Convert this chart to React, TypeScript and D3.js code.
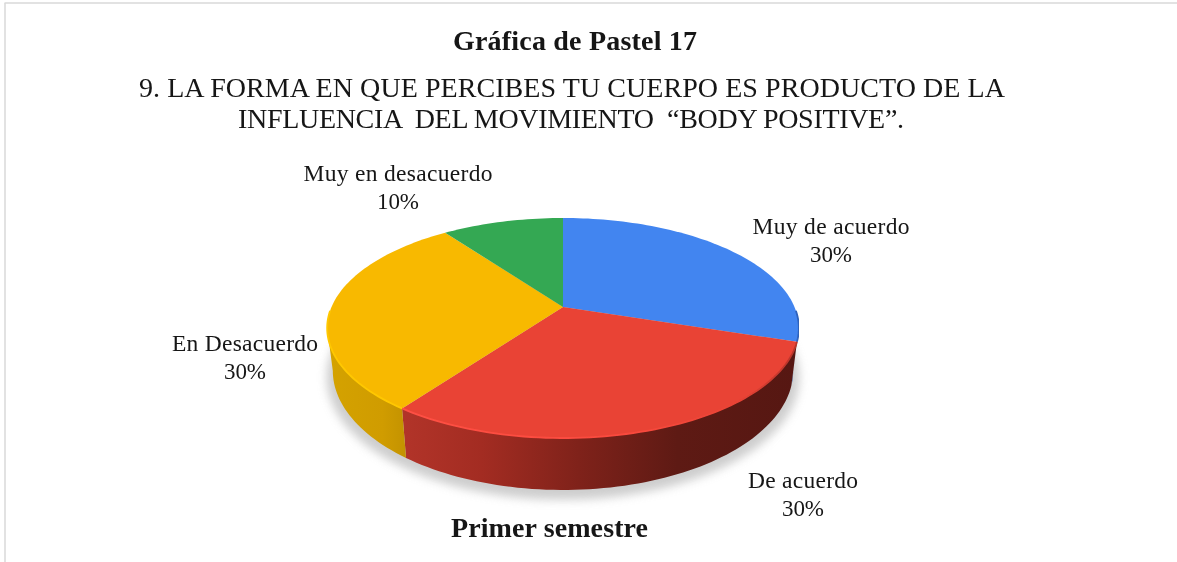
import React, { useEffect, useRef } from "react";
import * as d3 from "d3";

const categories = ["Muy de acuerdo", "De acuerdo", "En Desacuerdo", "Muy en desacuerdo"];
const values = [30, 30, 30, 10];
const percentLabels = ["30%", "30%", "30%", "10%"];
const chartTitle = "Gráfica de Pastel 17";
const questionLines = [
  "9. LA FORMA EN QUE PERCIBES TU CUERPO ES PRODUCTO DE LA",
  "INFLUENCIA  DEL MOVIMIENTO  “BODY POSITIVE”.",
];
const footer = "Primer semestre";

const topColors = ["#4285F0", "#E94335", "#F8B900", "#34A853"];
const rimColors = ["#2F62BC", "url(#redRim)", "#FFC800", "#34A853"];
const wallFills = ["#1F4C96", "url(#redWall)", "url(#yellowWall)", "#34A853"];

const labelPos = [
  { x: 831, y: 234 },
  { x: 803, y: 488 },
  { x: 245, y: 351 },
  { x: 398, y: 181 },
];

const W = 1177;
const H = 562;
const cx = 563;
const cy = 307;

// perspective mapping of a unit disc, upper face and lower face
const project = (face: { B: number; A: number; k: number; dy: number }) => (a: number): [number, number] => {
  const u = Math.sin(a);
  const v = -Math.cos(a);
  const d = 1 - face.k * v;
  return [cx + (face.B * u) / d, cy + face.dy + (face.A * v) / d];
};
const topFace = project({ B: 231.5, A: 106, k: 0.191, dy: 0 });
const lowFace = project({ B: 226, A: 115, k: 0.19, dy: 41 });
const shadowFace = project({ B: 232, A: 118, k: 0.19, dy: 47 });

const rad = (deg: number) => (deg * Math.PI) / 180;
const visStart = rad(101);
const visEnd = rad(259);

const samples = (a0: number, a1: number) => {
  const n = Math.max(2, Math.ceil(((a1 - a0) / Math.PI) * 120));
  return d3.range(n + 1).map((i) => a0 + ((a1 - a0) * i) / n);
};

export default function App() {
  const ref = useRef<SVGSVGElement | null>(null);

  useEffect(() => {
    const svg = d3.select(ref.current);
    svg.selectAll("*").remove();

    const defs = svg.append("defs");
    defs.append("filter").attr("id", "soft").attr("x", "-10%").attr("y", "-10%").attr("width", "120%").attr("height", "120%")
      .append("feGaussianBlur").attr("stdDeviation", 5);
    defs.append("filter").attr("id", "rimBlur").attr("x", "-5%").attr("y", "-5%").attr("width", "110%").attr("height", "110%")
      .append("feGaussianBlur").attr("stdDeviation", 0.7);
    defs.append("filter").attr("id", "textBlur").attr("x", "-2%").attr("y", "-20%").attr("width", "104%").attr("height", "140%")
      .append("feGaussianBlur").attr("stdDeviation", 0.35);

    const redStops: [number, string][] = [[0, "#B23429"], [0.2, "#A32C22"], [0.45, "#7F221A"], [0.7, "#5E1A14"], [1, "#561712"]];
    const redG = defs.append("linearGradient").attr("id", "redWall").attr("gradientUnits", "userSpaceOnUse")
      .attr("x1", 403).attr("x2", 795).attr("y1", 0).attr("y2", 0);
    redStops.forEach(([o, c]) => redG.append("stop").attr("offset", o).attr("stop-color", c));
    const yelStops: [number, string][] = [[0, "#D4A200"], [0.7, "#D09C00"], [1, "#C49300"]];
    const yelG = defs.append("linearGradient").attr("id", "yellowWall").attr("gradientUnits", "userSpaceOnUse")
      .attr("x1", 330).attr("x2", 405).attr("y1", 0).attr("y2", 0);
    yelStops.forEach(([o, c]) => yelG.append("stop").attr("offset", o).attr("stop-color", c));
    const rimStops: [number, string][] = [[0, "#FF5044"], [0.55, "#FB4A3E"], [0.85, "#E94335"], [1, "#B8342A"]];
    const rimG = defs.append("linearGradient").attr("id", "redRim").attr("gradientUnits", "userSpaceOnUse")
      .attr("x1", 403).attr("x2", 795).attr("y1", 0).attr("y2", 0);
    rimStops.forEach(([o, c]) => rimG.append("stop").attr("offset", o).attr("stop-color", c));

    // frame
    const frame = svg.append("g").attr("fill", "none").attr("stroke", "#D9D9D9").attr("stroke-width", 1.5);
    frame.append("line").attr("x1", 4.5).attr("x2", W).attr("y1", 3).attr("y2", 3);
    frame.append("line").attr("x1", 5).attr("x2", 5).attr("y1", 3).attr("y2", H);

    const line = d3.line<[number, number]>();
    const arcs = d3.pie<number>().sort(null).startAngle(0).endAngle(2 * Math.PI)(values);

    // shadow
    svg.append("path")
      .attr("d", line(samples(0, 2 * Math.PI).map(shadowFace)) + "Z")
      .attr("fill", "#BDBDBD").attr("opacity", 0.75).attr("filter", "url(#soft)");

    // walls
    arcs.forEach((arc, i) => {
      const a0 = Math.max(arc.startAngle, visStart);
      const a1 = Math.min(arc.endAngle, visEnd);
      if (a1 <= a0) return;
      const pts = [...samples(a0, a1).map(topFace), ...samples(a0, a1).reverse().map(lowFace)];
      svg.append("path").attr("d", line(pts) + "Z").attr("fill", wallFills[i]);
    });

    // top face
    arcs.forEach((arc, i) => {
      const pts: [number, number][] = [[cx, cy], ...samples(arc.startAngle, arc.endAngle).map(topFace)];
      svg.append("path").attr("d", line(pts) + "Z").attr("fill", topColors[i]);
    });

    // highlighted rim
    arcs.forEach((arc, i) => {
      const a0 = Math.max(arc.startAngle, i === 0 ? rad(92) : rad(100));
      const a1 = Math.min(arc.endAngle, rad(268));
      if (a1 <= a0) return;
      svg.append("path").attr("d", line(samples(a0, a1).map(topFace)))
        .attr("fill", "none").attr("stroke", rimColors[i]).attr("stroke-width", 1.8).attr("filter", "url(#rimBlur)");
    });

    // texts
    const serif = "'Liberation Serif', 'Times New Roman', serif";
    const text = (s: string, x: number, y: number, size: number, weight = "normal", len?: number) => {
      const t = svg.append("text").attr("x", x).attr("y", y).attr("text-anchor", "middle")
        .attr("font-family", serif).attr("font-size", size).attr("font-weight", weight)
        .attr("fill", "#151515").attr("filter", "url(#textBlur)").style("white-space", "pre").text(s);
      if (len) t.attr("textLength", len).attr("lengthAdjust", "spacing");
      return t;
    };

    text(chartTitle, 575, 50, 28, "bold", 244);
    text(questionLines[0], 572, 97, 28, "normal", 866);
    text(questionLines[1], 571, 128, 28, "normal", 666);
    text(footer, 549.5, 537, 28, "bold", 197);

    const catWidths = [157, 110, 146, 189];
    categories.forEach((c, i) => {
      text(c, labelPos[i].x, labelPos[i].y, 23.5, "normal", catWidths[i]);
      text(percentLabels[i], labelPos[i].x, labelPos[i].y + 28, 23, "normal", 42);
    });
  }, []);

  return <svg ref={ref} width={W} height={H} style={{ position: "absolute", left: 0, top: 0, background: "#fff" }} />;
}
